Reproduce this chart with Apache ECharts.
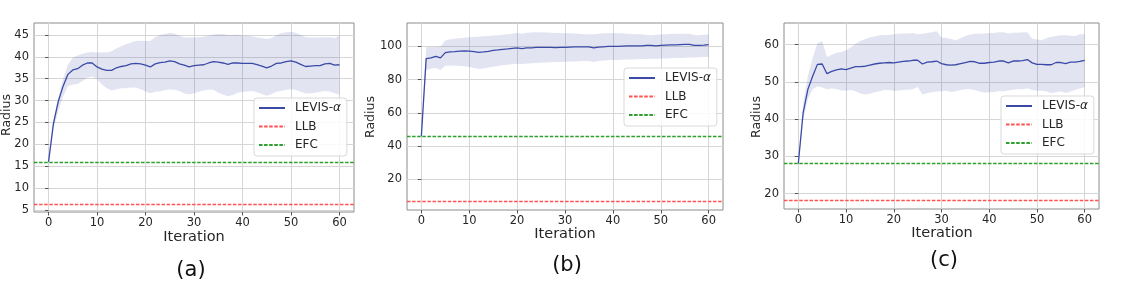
<!DOCTYPE html>
<html><head><meta charset="utf-8">
<script src="https://cdn.jsdelivr.net/npm/echarts@6/dist/echarts.min.js"></script>
<style>html,body{margin:0;padding:0;background:#fff}#c{width:1122px;height:302px}</style>
</head><body><div id="c"></div>
<script>
// ---------- data ----------
const iterations = [0,1,2,3,4,5,6,7,8,9,10,11,12,13,14,15,16,17,18,19,20,21,22,23,24,25,26,27,28,29,30,31,32,33,34,35,36,37,38,39,40,41,42,43,44,45,46,47,48,49,50,51,52,53,54,55,56,57,58,59,60];
const xTicks = [0,10,20,30,40,50,60];
const seriesNames = ['LEVIS-α','LLB','EFC'];
const panelLabels = ['(a)','(b)','(c)'];
const xTitle = 'Iteration';
const yTitle = 'Radius';

// panel (a)
const aMean = [16,24.7,29.8,33.3,36,37,37.3,38.1,38.6,38.6,37.7,37.2,36.9,36.9,37.5,37.8,38,38.4,38.5,38.4,38.1,37.7,38.4,38.7,38.8,39.1,38.9,38.4,38.1,37.7,38,38.1,38.2,38.6,38.9,38.8,38.6,38.3,38.6,38.6,38.5,38.5,38.5,38.2,37.9,37.5,37.9,38.5,38.6,38.9,39.1,38.8,38.3,37.8,37.9,38,38,38.4,38.5,38.1,38.2];
const aUpper = [16,25.5,30.5,35,38.2,39.8,40.3,40.7,41,41.1,41,41,41,41.3,41.9,42.4,42.9,43.3,43.6,43.7,43.6,43.6,44.5,45,45.2,45.5,45.3,44.8,44.5,44.4,44.4,44.5,44.6,44.8,45.1,45.2,45.2,45,45,45.1,44.9,44.8,44.7,44.4,44.3,44.1,44.3,45,45.4,45.6,45.7,45.5,45,44.5,44.4,44.4,44.4,44.5,44.5,44.3,44.9];
const aLower = [16,23.5,27.5,31,33.3,33.7,33.8,34.5,35.2,35.5,34.9,33.7,32.8,32.3,32.6,32.8,32.8,33,33,32.6,32.1,31.7,32,32.1,32.4,32.6,32.5,32.2,31.6,31.4,31.7,32,32.3,32.5,32.5,31.8,31.4,31,31.3,31.8,32,32.1,32.2,31.9,31.5,31.1,31.5,32,32.2,32.5,32.6,32.4,32,31.6,31.7,31.8,32,32.2,32.1,31.7,31.4];
const aLLB = 6.4;
const aEFC = 15.95;
const aYTicks = [5,10,15,20,25,30,35,40,45];

// panel (b)
const bMean = [46,92.6,93,94,93,96.2,96.6,96.8,97.1,97.2,97.1,96.8,96.4,96.6,97,97.5,97.8,98.2,98.4,98.7,99,98.6,99,99.1,99.3,99.4,99.4,99.3,99.2,99.3,99.4,99.5,99.6,99.7,99.7,99.7,99,99.5,99.7,99.9,100,99.9,100.1,100.3,100.3,100.3,100.2,100.5,100.5,100.3,100.6,100.7,100.8,100.9,101,101.1,101.2,100.6,100.6,100.7,101];
const bUpper = [46,99.5,99.5,99.5,99.8,103.5,104.2,104.6,104.9,105.2,105.5,105.6,105.8,106,106.2,106.5,106.7,107,107.3,107.6,108,107.6,108.2,108.3,108.4,108.5,108.3,108.1,108,108,107.9,107.8,107.7,107.5,107.3,107.2,107.2,107.5,107.8,107.9,108,107.9,107.8,107.5,107.4,107.3,107.2,106.8,106.7,107,107.1,107.3,107.4,107.5,107.5,107.6,107.6,106.8,106.7,107,107.1];
const bLower = [46,85.7,86.5,87,85.8,88.3,88.5,88.4,88.2,88,87.6,87,86.4,86.7,87.2,87.7,88.2,88.6,88.9,89.2,89.5,89.3,89.6,89.8,90,90.2,90.3,90.4,90.5,90.6,90.7,90.8,90.9,91,91.1,91.2,90.6,91.2,91.4,91.6,91.7,91.8,91.9,92,92.1,92.2,92.3,92.4,92.5,92.4,92.6,92.7,92.8,92.9,93,93.1,93.2,93.3,93.4,93.5,93.6];
const bLLB = 6.8;
const bEFC = 46;
const bYTicks = [20,40,60,80,100];

// panel (c)
const cMean = [28.1,41.6,48,51.5,54.7,54.8,52.2,52.8,53.2,53.5,53.3,53.7,54.1,54.1,54.2,54.5,54.8,55,55.1,55.2,55.1,55.3,55.5,55.6,55.8,55.8,54.8,55.3,55.4,55.6,54.9,54.6,54.5,54.6,54.9,55.2,55.5,55.4,55,55,55.2,55.3,55.6,55.6,55.1,55.6,55.6,55.7,56,55.1,54.7,54.7,54.6,54.6,55.2,55.2,54.9,55.3,55.3,55.5,55.8];
const cUpper = [28.1,44,51.5,56.5,60.4,61,56.7,57.3,57.8,58,58.5,59.2,60.2,61,61.5,61.9,62.2,62.5,62.6,62.6,62.8,62.9,63,63,63.1,62.8,62.9,63.1,63.3,63.6,61.9,61.8,61.5,61.2,61.7,62.3,62.7,62.9,62.9,63,63.1,63.1,63.3,63.3,63,63.2,63.2,63.3,63.3,61.6,61.4,61.2,61.8,62.1,62.3,62.5,62.5,62.4,62.3,62.8,62.8];
const cLower = [28.1,39.5,45.5,48,48.8,48.5,48,48.2,48.1,47.7,47.6,47.8,47.5,46.9,46.6,46.8,47.2,47.5,47.8,47.8,47.6,47.7,47.8,47.9,48,48.6,46.6,47,47.2,47.4,47.5,47.6,47.3,47.5,47.8,48,48,47.8,47.4,47.1,47.2,47.3,47.5,47.5,47.7,47.9,48,48,48.3,47.8,47.6,47.6,47.4,47,47.2,47.5,47,47.4,47.8,48.2,48.6];
const cLLB = 18.3;
const cEFC = 28.1;
const cYTicks = [20,30,40,50,60];

// ---------- layout / style ----------
const FONT = '"DejaVu Sans", sans-serif';
const LINE = '#3b4aa6';
const BAND = 'rgba(59,74,166,0.15)';
const RED = '#ff5252';
const GREEN = '#2ca02c';
const TEXT = '#262626';

const panels = [
  {mean:aMean, upper:aUpper, lower:aLower, llb:aLLB, efc:aEFC, yTicks:aYTicks,
   yMin:4.54, yMax:47.74, grid:{left:34, top:23, width:320, height:189},
   legend:{left:254, top:98}, label:[191,271], xt:[194,237], yt:[7,115]},
  {mean:bMean, upper:bUpper, lower:bLower, llb:bLLB, efc:bEFC, yTicks:bYTicks,
   yMin:1.6, yMax:114, grid:{left:407, top:23, width:316, height:187},
   legend:{left:624, top:68}, label:[567,266], xt:[565,234], yt:[371,117]},
  {mean:cMean, upper:cUpper, lower:cLower, llb:cLLB, efc:cEFC, yTicks:cYTicks,
   yMin:15.9, yMax:65.8, grid:{left:784, top:23, width:315, height:186},
   legend:{left:1001, top:96}, label:[944,261], xt:[942,233], yt:[757,117]}
];

const grids = [], xAxes = [], yAxes = [], series = [], legends = [], graphics = [];
panels.forEach((p, i) => {
  grids.push(Object.assign({show:true, borderColor:'#8c8c8c', borderWidth:1, backgroundColor:'#fff', containLabel:false}, p.grid));
  xAxes.push({
    type:'value', gridIndex:i, min:-3, max:63,
    axisLine:{show:false},
    axisTick:{show:true, length:3.5, lineStyle:{color:'#555'}, customValues:xTicks},
    axisLabel:{show:true, customValues:xTicks, color:TEXT, fontFamily:FONT, fontSize:11.5, margin:5},
    splitLine:{show:true, lineStyle:{color:'#d6d6d6', width:1}}
  });
  yAxes.push({
    type:'value', gridIndex:i, min:p.yMin, max:p.yMax,
    axisLine:{show:false},
    axisTick:{show:true, length:3.5, lineStyle:{color:'#555'}, customValues:p.yTicks},
    axisLabel:{show:true, customValues:p.yTicks, color:TEXT, fontFamily:FONT, fontSize:11.5, margin:5},
    splitLine:{show:true, lineStyle:{color:'#d6d6d6', width:1}}
  });
  const meanPts = iterations.map((x, k) => [x, p.mean[k]]);
  const bandRows = iterations.map((x, k) => [x, p.lower[k], p.upper[k]]);
  series.push({type:'custom', name:'band-'+i, xAxisIndex:i, yAxisIndex:i, data:bandRows,
    encode:{x:0, y:[1,2]}, clip:true, silent:true, z:1, animation:false,
    renderItem:(params, api) => {
      if (params.dataIndex !== 0) return null;
      const pts = [];
      for (let k = 0; k < bandRows.length; k++) pts.push(api.coord([bandRows[k][0], bandRows[k][2]]));
      for (let k = bandRows.length - 1; k >= 0; k--) pts.push(api.coord([bandRows[k][0], bandRows[k][1]]));
      return {type:'polygon', shape:{points:pts}, style:{fill:BAND, stroke:null}};
    }});
  series.push({type:'line', name:seriesNames[1], xAxisIndex:i, yAxisIndex:i, data:[], symbol:'none',
    color:RED, lineStyle:{color:RED, type:[3.5,1.6], width:1.3}, z:3, animation:false,
    markLine:{silent:true, symbol:'none', label:{show:false}, animation:false,
      lineStyle:{color:RED, type:[3.5,1.6], width:1.3}, data:[{yAxis:p.llb}]}});
  series.push({type:'line', name:seriesNames[2], xAxisIndex:i, yAxisIndex:i, data:[], symbol:'none',
    color:GREEN, lineStyle:{color:GREEN, type:[3.5,1.6], width:1.3}, z:3, animation:false,
    markLine:{silent:true, symbol:'none', label:{show:false}, animation:false,
      lineStyle:{color:GREEN, type:[3.5,1.6], width:1.3}, data:[{yAxis:p.efc}]}});
  series.push({type:'line', name:seriesNames[0], xAxisIndex:i, yAxisIndex:i, data:meanPts, symbol:'none',
    color:LINE, lineStyle:{color:LINE, width:1.3}, z:4, animation:false});

  legends.push({
    data:seriesNames, orient:'vertical', left:p.legend.left, top:p.legend.top,
    itemStyle:{opacity:0, borderWidth:0},
    padding:[3,6,4,4], itemGap:4.5, itemWidth:26, itemHeight:14,
    backgroundColor:'rgba(255,255,255,0.85)', borderColor:'#d9d9d9', borderWidth:1, borderRadius:3,
    selectedMode:false,
    textStyle:{color:TEXT, fontFamily:FONT, fontSize:12, padding:[0,0,0,5], lineHeight:14,
      rich:{g:{fontStyle:'italic', fontFamily:FONT, fontSize:12, color:TEXT}, n:{fontFamily:FONT, fontSize:12, color:TEXT}}},
    formatter: (name) => name === seriesNames[0] ? '{n|LEVIS-}{g|α}' : name
  });

  graphics.push({type:'text', x:p.xt[0], y:p.xt[1], silent:true,
    style:{text:xTitle, font:'14.5px ' + FONT, fill:TEXT, align:'center', verticalAlign:'middle'}});
  graphics.push({type:'text', x:p.yt[0], y:p.yt[1], rotation:Math.PI/2, silent:true,
    style:{text:yTitle, font:'12.5px ' + FONT, fill:TEXT, align:'center', verticalAlign:'middle'}});
  graphics.push({type:'text', x:p.label[0], y:p.label[1], silent:true,
    style:{text:panelLabels[i], font:'21px ' + FONT, fill:'#111', align:'center', verticalAlign:'middle'}});
});

const chart = echarts.init(document.getElementById('c'), null, {renderer:'canvas'});
chart.setOption({
  animation:false,
  backgroundColor:'#fff',
  grid:grids, xAxis:xAxes, yAxis:yAxes, series:series, legend:legends, graphic:graphics
});
</script>
</body></html>
